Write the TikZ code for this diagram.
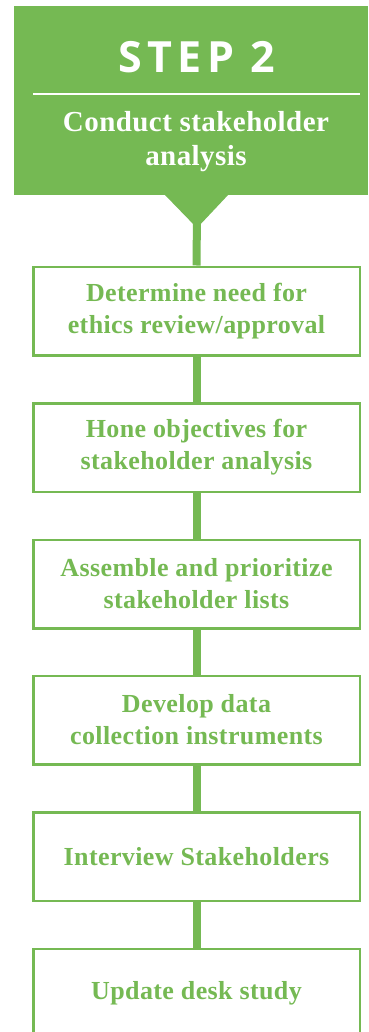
\documentclass[tikz,border=0pt]{standalone}
\usepackage{fontspec}
\setmainfont{Liberation Serif}
\newfontfamily\headfont[LetterSpace=12]{Open Sans}
\newfontfamily\boxfont[LetterSpace=1.5]{Liberation Serif}
\definecolor{stepgreen}{RGB}{117,185,83}
\tikzset{
  stepbox/.style={draw=stepgreen, line width=2.5pt, fill=white, minimum width=326.5pt, minimum height=88.5pt,
    inner sep=0pt, align=center, text=stepgreen, font=\boxfont\fontsize{26}{32}\selectfont\bfseries},
  link/.style={draw=stepgreen, line width=8pt}
}
\begin{document}
\begin{tikzpicture}[x=1pt,y=-1pt]
\useasboundingbox (0,0) rectangle (368,1032);
\begin{scope}
\clip (0,0) rectangle (368,1032);
% header
\fill[stepgreen] (14,6) rectangle (368,195);
\fill[stepgreen] (164,194) -- (229,194) -- (197,228) -- cycle;
\coordinate (tip) at (197,214);
\draw[white, line width=1.5pt] (33,94) -- (360,94);
\node[anchor=base, text=white, font=\headfont\fontsize{43}{50}\selectfont\bfseries] (title) at (197,73) {STEP 2};
\node[align=center, text=white, font=\boxfont\fontsize{29}{34}\selectfont\bfseries] (sub) at (196,142) {Conduct stakeholder\\analysis};
% boxes
\node[stepbox] (b1) at (196.5,311) {Determine need for\\ethics review/approval};
\node[stepbox] (b2) at (196.5,447.5) {Hone objectives for\\stakeholder analysis};
\node[stepbox] (b3) at (196.5,584) {Assemble and prioritize\\stakeholder lists};
\node[stepbox] (b4) at (196.5,720) {Develop data\\collection instruments};
\node[stepbox] (b5) at (196.5,856.5) {Interview Stakeholders};
\node[stepbox] (b6) at (196.5,993) {Update desk study};
% connectors
\draw[link] (tip) -- (b1.north);
\draw[link] (b1.south) -- (b2.north);
\draw[link] (b2.south) -- (b3.north);
\draw[link] (b3.south) -- (b4.north);
\draw[link] (b4.south) -- (b5.north);
\draw[link] (b5.south) -- (b6.north);
\end{scope}
\end{tikzpicture}
\end{document}
